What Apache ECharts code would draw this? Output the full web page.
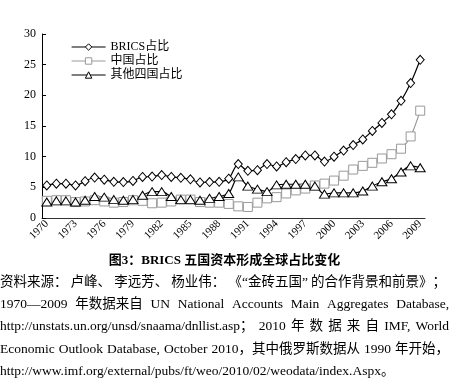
<!DOCTYPE html>
<html><head><meta charset="utf-8">
<script src="https://cdn.jsdelivr.net/npm/echarts@6/dist/echarts.min.js"></script>
<style>html,body{margin:0;padding:0;background:#fff}#c{width:449px;height:385px}</style>
</head><body><div id="c"></div>
<script>
const years = ['1970','1971','1972','1973','1974','1975','1976','1977','1978','1979',
  '1980','1981','1982','1983','1984','1985','1986','1987','1988','1989',
  '1990','1991','1992','1993','1994','1995','1996','1997','1998','1999',
  '2000','2001','2002','2003','2004','2005','2006','2007','2008','2009'];
const bricsShare = [5.3,5.6,5.6,5.3,6.0,6.6,6.25,5.9,5.85,6.05,
  6.7,6.75,7.0,6.7,6.55,6.3,5.8,5.85,5.9,6.4,
  8.8,7.7,7.8,8.8,8.4,9.1,9.6,10.2,10.2,9.2,
  10.0,11.0,11.9,12.8,14.2,15.5,16.9,19.1,22.0,25.8];
const chinaShare = [2.8,2.9,2.9,2.6,2.7,2.9,2.7,2.5,2.6,2.9,
  2.8,2.4,2.5,2.7,3.0,3.0,2.6,2.5,2.5,2.3,
  1.9,1.8,2.5,3.2,3.4,4.0,4.5,4.8,5.3,5.6,
  6.1,6.9,7.9,8.5,9.0,9.7,10.4,11.3,13.3,17.5];
const otherShare = [2.6,2.8,2.8,2.6,2.9,3.5,3.4,3.0,2.9,3.0,
  3.7,4.3,4.3,3.5,3.0,3.0,2.9,3.2,3.5,4.0,
  6.7,5.2,4.7,4.3,5.4,5.5,5.5,5.5,5.2,3.9,
  4.1,4.1,4.1,4.4,5.2,5.9,6.4,7.5,8.5,8.2];
const yMin = 0, yMax = 30, yStep = 5;
const seriesNames = ['BRICS占比','中国占比','其他四国占比'];
const seriesColors = ['#000','#999','#000'];
const figTitle = '图3：BRICS 五国资本形成全球占比变化';
const sourceLines = [
  ['资料来源：','卢峰、','李远芳、','杨业伟：','《“金砖五国”','的合作背景和前景》；'],
  ['1970—2009','年数据来自','UN','National','Accounts','Main','Aggregates','Database,'],
  ['http://unstats.un.org/unsd/snaama/dnllist.asp；','2010','年','数','据','来','自','IMF,','World'],
  ['Economic','Outlook','Database,','October','2010，其中俄罗斯数据从','1990','年开始，'],
  ['http://www.imf.org/external/pubs/ft/weo/2010/02/weodata/index.Aspx。']
];

const FAM = '"Liberation Serif","Noto Sans CJK SC"';
const srcSize = 13.5;
const lineTargets = [446, 449, 449, 449, 0];
const lineY0 = 282, lineStep = 22.4;
const measureCtx = document.createElement('canvas').getContext('2d');
measureCtx.font = srcSize + 'px ' + FAM;

const graphics = [];
graphics.push({
  type: 'text', x: 224.5, y: 261,
  style: { text: figTitle, fontSize: 13, fontWeight: 'bold', fontFamily: FAM, fill: '#000',
    align: 'center', verticalAlign: 'middle', textAlign: 'center', textVerticalAlign: 'middle' }
});
sourceLines.forEach((segs, i) => {
  const y = lineY0 + i * lineStep;
  const widths = segs.map(s => measureCtx.measureText(s).width);
  const total = widths.reduce((a, b) => a + b, 0);
  const gap = segs.length > 1 ? (lineTargets[i] - total) / (segs.length - 1) : 0;
  let x = 0;
  segs.forEach((s, k) => {
    graphics.push({
      type: 'text', x: x, y: y,
      style: { text: s, fontSize: srcSize, fontFamily: FAM, fill: '#000',
        align: 'left', verticalAlign: 'middle', textAlign: 'left', textVerticalAlign: 'middle' }
    });
    x += widths[k] + gap;
  });
});

const chart = echarts.init(document.getElementById('c'), null, { renderer: 'canvas' });
const mk = (name, data, color, symbol, size) => ({
  name, type: 'line', data, symbol, symbolSize: size, smooth: 0.3,
  showSymbol: true, showAllSymbol: true,
  lineStyle: { color, width: 1.2 },
  itemStyle: { color: '#fff', borderColor: color, borderWidth: 1 },
  emphasis: { disabled: true }
});
chart.setOption({
  animation: false,
  backgroundColor: '#fff',
  grid: { left: 42, right: 24, top: 34, bottom: 167 },
  legend: {
    data: seriesNames.map((n, i) => ({
      name: n,
      itemStyle: { color: '#fff', borderColor: seriesColors[i], borderWidth: 1 },
      lineStyle: { color: seriesColors[i], width: 1.2 }
    })),
    orient: 'vertical', left: 66, top: 36,
    itemWidth: 34, itemHeight: 8, itemGap: 2,
    textStyle: { fontSize: 12, fontFamily: FAM, color: '#000', lineHeight: 11.5 }
  },
  xAxis: {
    type: 'category', data: years, boundaryGap: true,
    axisLine: { lineStyle: { color: '#333', width: 1 } },
    axisTick: { show: false },
    axisLabel: { interval: 2, rotate: 45, fontSize: 11, fontFamily: FAM, color: '#000', margin: 4 }
  },
  yAxis: {
    type: 'value', min: yMin, max: yMax, interval: yStep,
    axisLine: { show: true, lineStyle: { color: '#000', width: 1 } },
    axisTick: { show: true, inside: true, length: 4, lineStyle: { color: '#000' } },
    splitLine: { show: false },
    axisLabel: { fontSize: 12, fontFamily: FAM, color: '#000', margin: 6 }
  },
  series: [
    mk(seriesNames[0], bricsShare, seriesColors[0], 'diamond', [8, 9]),
    mk(seriesNames[1], chinaShare, seriesColors[1], 'rect', 9),
    mk(seriesNames[2], otherShare, seriesColors[2], 'triangle', [10, 8])
  ],
  graphic: graphics
});
</script></body></html>
